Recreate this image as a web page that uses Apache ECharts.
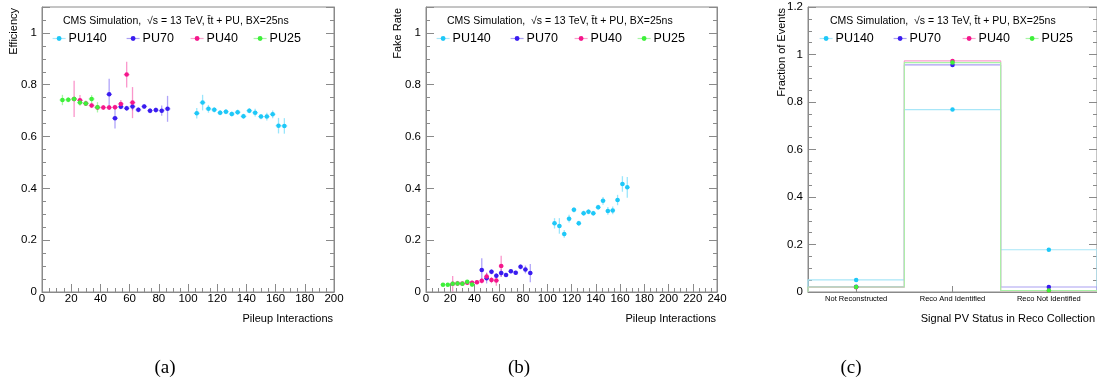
<!DOCTYPE html>
<html>
<head>
<meta charset="utf-8">
<script src="https://cdn.jsdelivr.net/npm/echarts@6.0.0/dist/echarts.min.js"></script>
<style>
  html, body { margin: 0; padding: 0; background: #fff; }
  #main { width: 1097px; height: 385px; }
</style>
</head>
<body>
<div id="main"></div>
<script>
// pileup bins
var pu140X = [106, 110, 114, 118, 122, 126, 130, 134, 138, 142, 146, 150, 154, 158, 162, 166];
var pu70X = [46, 50, 54, 58, 62, 66, 70, 74, 78, 82, 86];
var pu40X = [22, 26, 30, 34, 38, 42, 46, 50, 54, 58, 62];
var pu25X = [14, 18, 22, 26, 30, 34, 38];

// (a) efficiency
var effPU140 = [0.690, 0.731, 0.707, 0.703, 0.692, 0.696, 0.687, 0.694, 0.678, 0.700, 0.692, 0.677, 0.677, 0.686, 0.642, 0.641];
var effErrPU140 = [0.02, 0.03, 0.015, 0.01, 0.01, 0.01, 0.01, 0.01, 0.01, 0.01, 0.015, 0.01, 0.015, 0.015, 0.03, 0.03];
var effPU70 = [0.763, 0.671, 0.715, 0.709, 0.716, 0.703, 0.716, 0.700, 0.702, 0.700, 0.707];
var effErrPU70 = [0.06, 0.04, 0.01, 0.01, 0.015, 0.01, 0.01, 0.01, 0.01, 0.02, 0.05];
var effPU40 = [0.745, 0.740, 0.728, 0.720, 0.712, 0.712, 0.712, 0.713, 0.726, 0.839, 0.731];
var effErrPU40 = [0.07, 0.02, 0.01, 0.01, 0.01, 0.01, 0.01, 0.01, 0.015, 0.05, 0.06];
var effPU25 = [0.741, 0.742, 0.745, 0.731, 0.728, 0.745, 0.713];
var effErrPU25 = [0.02, 0.01, 0.01, 0.01, 0.01, 0.015, 0.02];

// (b) fake rate
var fakePU140 = [0.265, 0.255, 0.224, 0.283, 0.317, 0.265, 0.304, 0.310, 0.304, 0.327, 0.352, 0.313, 0.315, 0.355, 0.417, 0.404];
var fakeErrPU140 = [0.02, 0.03, 0.015, 0.015, 0.01, 0.01, 0.01, 0.01, 0.01, 0.01, 0.015, 0.015, 0.015, 0.02, 0.03, 0.04];
var fakePU70 = [0.085, 0.053, 0.078, 0.063, 0.073, 0.066, 0.080, 0.074, 0.097, 0.087, 0.073];
var fakeErrPU70 = [0.045, 0.02, 0.01, 0.01, 0.015, 0.008, 0.008, 0.008, 0.01, 0.015, 0.035];
var fakePU40 = [0.032, 0.033, 0.033, 0.036, 0.036, 0.038, 0.043, 0.060, 0.046, 0.044, 0.100];
var fakeErrPU40 = [0.03, 0.01, 0.005, 0.008, 0.008, 0.008, 0.01, 0.015, 0.012, 0.02, 0.04];
var fakePU25 = [0.028, 0.028, 0.032, 0.033, 0.032, 0.040, 0.029];
var fakeErrPU25 = [0.005, 0.005, 0.005, 0.005, 0.005, 0.006, 0.01];

// (c) signal PV status
var statusCats = ['Not Reconstructed', 'Reco And Identified', 'Reco Not Identified'];
var fracPU140 = [0.051, 0.768, 0.178];
var fracPU70 = [0.022, 0.956, 0.021];
var fracPU40 = [0.020, 0.973, 0.005];
var fracPU25 = [0.021, 0.966, 0.006];

var puNames = ['PU140', 'PU70', 'PU40', 'PU25'];
var colors = ['#1ec8f8', '#3a1cf0', '#f5168c', '#3ef03a'];
var light = ['rgba(30,200,248,0.45)', 'rgba(58,28,240,0.4)', 'rgba(245,22,140,0.45)', 'rgba(62,240,58,0.45)'];
var histCol = ['#a8e6f8', '#aaa0f2', '#f8a0cc', '#a8f4a6'];

var FONT = '"Liberation Sans", Arial, sans-serif';
var AX = '#8a8a8a';

var xs = [pu140X, pu70X, pu40X, pu25X];
var effVals = [effPU140, effPU70, effPU40, effPU25];
var effErrs = [effErrPU140, effErrPU70, effErrPU40, effErrPU25];
var fakeVals = [fakePU140, fakePU70, fakePU40, fakePU25];
var fakeErrs = [fakeErrPU140, fakeErrPU70, fakeErrPU40, fakeErrPU25];
var fracVals = [fracPU140, fracPU70, fracPU40, fracPU25];

function yLabel(v) {
  if (v > 1.15 && v < 1.25) return '1.2';
  if (Math.abs(v - Math.round(v * 5) / 5) > 1e-6) return '';
  if (v === 0) return '0';
  if (Math.abs(v - 1) < 1e-6) return '1';
  return v.toFixed(1);
}

function yAxis(grid, pos, max, labels) {
  return {
    type: 'value', gridIndex: grid, position: pos, min: 0, max: max, interval: 0.2,
    axisLine: { show: true, lineStyle: { color: AX } },
    axisTick: { show: true, inside: true, length: 8, lineStyle: { color: AX } },
    minorTick: { show: true, splitNumber: 4, length: 4, lineStyle: { color: AX } },
    splitLine: { show: false },
    axisLabel: { show: labels, color: '#000', fontSize: 11.5, fontFamily: FONT, margin: 5, formatter: yLabel }
  };
}

function xAxis(grid, max) {
  return {
    type: 'value', gridIndex: grid, position: 'bottom', min: 0, max: max, interval: 20,
    axisLine: { show: true, lineStyle: { color: AX } },
    axisTick: { show: true, inside: true, length: 8, lineStyle: { color: AX } },
    minorTick: { show: true, splitNumber: 4, length: 4, lineStyle: { color: AX } },
    splitLine: { show: false },
    axisLabel: { color: '#000', fontSize: 11.5, fontFamily: FONT, margin: 1 }
  };
}

function errSeries(i, xi, yi, vals, errs) {
  var col = light[i];
  return {
    type: 'custom', name: puNames[i] + ' err', xAxisIndex: xi, yAxisIndex: yi, silent: true, z: 2,
    data: xs[i].map(function (x, k) { return [x, vals[k], errs[k]]; }),
    encode: { x: 0, y: 1 },
    renderItem: function (params, api) {
      var x = api.value(0), y = api.value(1), e = api.value(2);
      var lo = api.coord([x, Math.max(0, y - e)]), hi = api.coord([x, y + e]);
      var l = api.coord([x - 2, y]), r = api.coord([x + 2, y]);
      var st = { stroke: col, lineWidth: 1.3 };
      return {
        type: 'group', children: [
          { type: 'line', shape: { x1: lo[0], y1: lo[1], x2: hi[0], y2: hi[1] }, style: st },
          { type: 'line', shape: { x1: l[0], y1: l[1], x2: r[0], y2: r[1] }, style: st }
        ]
      };
    }
  };
}

function markSeries(i, xi, yi, data) {
  return {
    type: 'line', name: puNames[i], xAxisIndex: xi, yAxisIndex: yi, silent: true, z: 3,
    data: data, symbol: 'circle', symbolSize: 4.5, showSymbol: true, animation: false,
    itemStyle: { color: colors[i] },
    lineStyle: { opacity: 0, width: 1 }
  };
}

var series = [];
for (var i = 0; i < 4; i++) {
  series.push(errSeries(i, 0, 0, effVals[i], effErrs[i]));
  series.push(errSeries(i, 1, 2, fakeVals[i], fakeErrs[i]));
}
for (var i = 0; i < 4; i++) {
  series.push(markSeries(i, 0, 0, xs[i].map(function (x, k) { return [x, effVals[i][k]]; })));
  series.push(markSeries(i, 1, 2, xs[i].map(function (x, k) { return [x, fakeVals[i][k]]; })));
}
// (c) step histograms on hidden value axis 0..3
for (var i = 0; i < 4; i++) {
  var v = fracVals[i];
  var pts = [[0, 0]];
  for (var k = 0; k < v.length; k++) pts.push([k, v[k]]);
  pts.push([v.length, v[v.length - 1]]);
  pts.push([v.length, 0]);
  series.push({
    type: 'line', name: puNames[i] + ' hist', xAxisIndex: 3, yAxisIndex: 4, step: 'end',
    data: pts, showSymbol: false, silent: true, z: 1, animation: false,
    lineStyle: { color: histCol[i], width: 1.2 }
  });
}
for (var i = 0; i < 4; i++) {
  series.push(markSeries(i, 2, 4, fracVals[i]));
}

// legends: one per entry so positions follow the picture
var legendLeft = [[52, 126, 190, 253], [436, 510, 574, 637], [819, 893, 962, 1025]];
var legends = [];
legendLeft.forEach(function (row) {
  row.forEach(function (lx, i) {
    legends.push({
      left: lx, top: 32, padding: 0, itemWidth: 13, itemHeight: 6, selectedMode: false,
      textStyle: { fontSize: 12.5, fontFamily: FONT, color: '#000', padding: [0, 0, 0, -2] },
      data: [{ name: puNames[i], lineStyle: { color: histCol[i], opacity: 1, width: 1.2 } }]
    });
  });
});

var header = 'CMS Simulation,  \u221As = 13 TeV, t\u0304t + PU, BX=25ns';
function txt(x, y, s, size, align, rot, fam) {
  return {
    type: 'text', x: x, y: y, rotation: rot || 0, silent: true,
    style: { text: s, fontSize: size, fontFamily: fam || FONT, fill: '#000', align: align, verticalAlign: 'middle' }
  };
}

var option = {
  animation: false,
  grid: [
    { left: 42, top: 7, width: 292, height: 285, show: true, borderColor: AX, borderWidth: 1 },
    { left: 426, top: 7, width: 291, height: 285, show: true, borderColor: AX, borderWidth: 1 },
    { left: 808, top: 7, width: 290, height: 285, show: true, borderColor: AX, borderWidth: 1 }
  ],
  xAxis: [
    xAxis(0, 200),
    xAxis(1, 240),
    {
      type: 'category', gridIndex: 2, position: 'bottom', data: statusCats, boundaryGap: true,
      axisLine: { show: true, lineStyle: { color: AX } },
      axisTick: { show: true, inside: true, alignWithLabel: true, length: 6, lineStyle: { color: AX } },
      axisLabel: { color: '#000', fontSize: 7.5, fontFamily: FONT, margin: 3, interval: 0 }
    },
    { type: 'value', gridIndex: 2, position: 'top', min: 0, max: 3, show: false }
  ],
  yAxis: [
    yAxis(0, 'left', 1.1, true), yAxis(0, 'right', 1.1, false),
    yAxis(1, 'left', 1.1, true), yAxis(1, 'right', 1.1, false),
    yAxis(2, 'left', 1.2, true), yAxis(2, 'right', 1.2, false)
  ],
  legend: legends,
  series: series,
  graphic: [
    txt(63, 21, header, 10.5, 'left'),
    txt(447, 21, header, 10.5, 'left'),
    txt(830, 21, header, 10.5, 'left'),
    txt(13.5, 8, 'Efficiency', 11, 'right', Math.PI / 2),
    txt(398, 8, 'Fake Rate', 11, 'right', Math.PI / 2),
    txt(782, 8, 'Fraction of Events', 11, 'right', Math.PI / 2),
    txt(333, 319, 'Pileup Interactions', 11, 'right'),
    txt(716, 319, 'Pileup Interactions', 11, 'right'),
    txt(1095, 319, 'Signal PV Status in Reco Collection', 11, 'right'),
    txt(165, 368, '(a)', 19, 'center', 0, '"Liberation Serif", "Times New Roman", serif'),
    txt(519, 368, '(b)', 19, 'center', 0, '"Liberation Serif", "Times New Roman", serif'),
    txt(851, 368, '(c)', 19, 'center', 0, '"Liberation Serif", "Times New Roman", serif')
  ]
};

var chart = echarts.init(document.getElementById('main'));
chart.setOption(option);
</script>
</body>
</html>
